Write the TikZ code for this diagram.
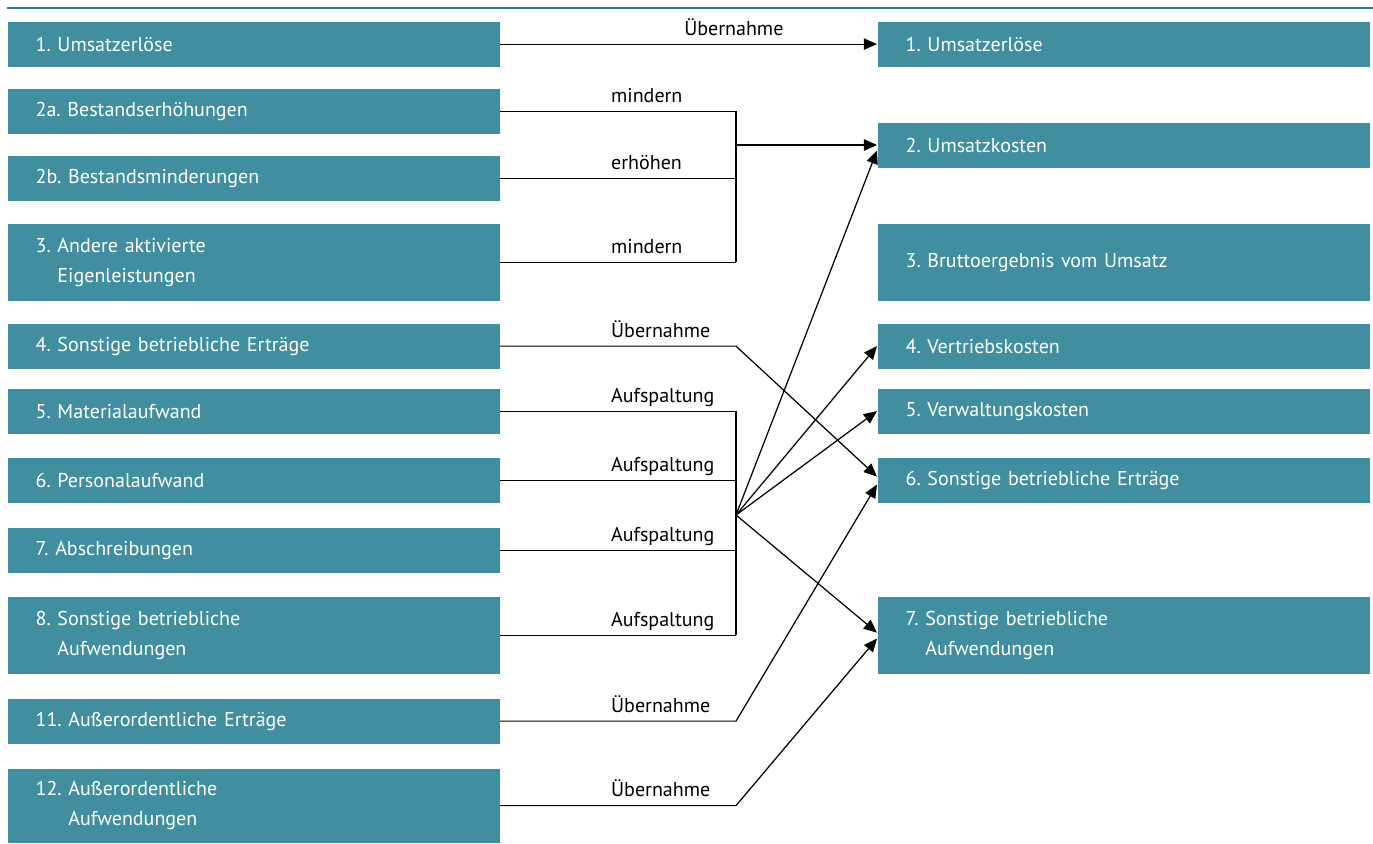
\documentclass[tikz,border=0pt]{standalone}
\usepackage{fontspec}
\setmainfont{PT Sans}
\usetikzlibrary{arrows.meta, calc}
\definecolor{cTeal}{HTML}{418EA0}
\definecolor{cRule}{HTML}{35798A}
\frenchspacing

\begin{document}
\begin{tikzpicture}[x=0.02cm, y=-0.02cm, line width=0.7pt,
    posten/.style={anchor=north west, fill=cTeal, text=white, inner xsep=0.56cm,
      text width=8.72cm, align=left, minimum height=0.9cm,
      font=\fontsize{11.4pt}{17pt}\selectfont},
    hoch/.style={posten, minimum height=1.54cm},
    beschr/.style={anchor=base west, yshift=0.18cm, inner sep=0pt,
      font=\fontsize{11.4pt}{17pt}\selectfont},
    pfeil/.style={-{Triangle[length=7.5pt, width=6.5pt]}}]
    \useasboundingbox (0,0) rectangle (1373,843);
    \draw[cRule, line width=1.4pt] (7,8) -- (1373,8);

    \node[posten] (l1) at (7,21) {1. Umsatzerlöse};
    \node[posten] (l2a) at (7,88) {2a. Bestandserhöhungen};
    \node[posten] (l2b) at (7,155) {2b. Bestandsminderungen};
    \node[hoch] (l3) at (7,223) {3. Andere aktivierte\\\phantom{3. }Eigenleistungen};
    \node[posten] (l4) at (7,323) {4. Sonstige betriebliche Erträge};
    \node[posten] (l5) at (7,388) {5. Materialaufwand};
    \node[posten] (l6) at (7,457) {6. Personalaufwand};
    \node[posten] (l7) at (7,527) {7. Abschreibungen};
    \node[hoch] (l8) at (7,596) {8. Sonstige betriebliche\\\phantom{8. }Aufwendungen};
    \node[posten] (l11) at (7,698) {11. Außerordentliche Erträge};
    \node[hoch, minimum height=1.48cm] (l12) at (7,768) {12. Außerordentliche\\\phantom{12. }Aufwendungen};

    \node[posten] (r1) at (877,21) {1. Umsatzerlöse};
    \node[posten] (r2) at (877,122) {2. Umsatzkosten};
    \node[hoch] (r3) at (877,223) {3. Bruttoergebnis vom Umsatz};
    \node[posten] (r4) at (877,323) {4. Vertriebskosten};
    \node[posten] (r5) at (877,388) {5. Verwaltungskosten};
    \node[posten] (r6) at (877,457) {6. Sonstige betriebliche Erträge};
    \node[hoch] (r7) at (877,596) {7. Sonstige betriebliche\\\phantom{7. }Aufwendungen};

    \coordinate (jA) at (736,145);
    \coordinate (jB) at (736,515);

    \draw[pfeil] (l1.east) -- node[beschr, pos=0.487] {Übernahme} (r1.west);

    \draw (l2a.east) -- node[beschr, pos=0.468] {mindern} (l2a.east -| jA);
    \draw (l2b.east) -- node[beschr, pos=0.468] {erhöhen} (l2b.east -| jA);
    \draw (l3.east) -- node[beschr, pos=0.468] {mindern} (l3.east -| jA);
    \draw (l2a.east -| jA) -- (l3.east -| jA);
    \draw[pfeil] (jA) -- (jA -| r2.west);

    \draw[pfeil] (l4.east) -- node[beschr, pos=0.468] {Übernahme} (l4.east -| jB)
      -- ([yshift=0.07cm]r6.west);

    \draw (l5.east) -- node[beschr, pos=0.468] {Aufspaltung} (l5.east -| jB);
    \draw (l6.east) -- node[beschr, pos=0.468] {Aufspaltung} (l6.east -| jB);
    \draw (l7.east) -- node[beschr, pos=0.468] {Aufspaltung} (l7.east -| jB);
    \draw (l8.east) -- node[beschr, pos=0.468] {Aufspaltung} (l8.east -| jB);
    \draw (l5.east -| jB) -- (l8.east -| jB);
    \draw[pfeil] (jB) -- ([yshift=-0.11cm]r2.west);
    \draw[pfeil] (jB) -- (r4.west);
    \draw[pfeil] (jB) -- (r5.west);
    \draw[pfeil] (jB) -- ([yshift=0.05cm]r7.west);

    \draw[pfeil] (l11.east) -- node[beschr, pos=0.468] {Übernahme} (l11.east -| jB)
      -- ([yshift=-0.09cm]r6.west);
    \draw[pfeil] (l12.east) -- node[beschr, pos=0.468] {Übernahme} (l12.east -| jB)
      -- ([yshift=-0.07cm]r7.west);
  \end{tikzpicture}
\end{document}
